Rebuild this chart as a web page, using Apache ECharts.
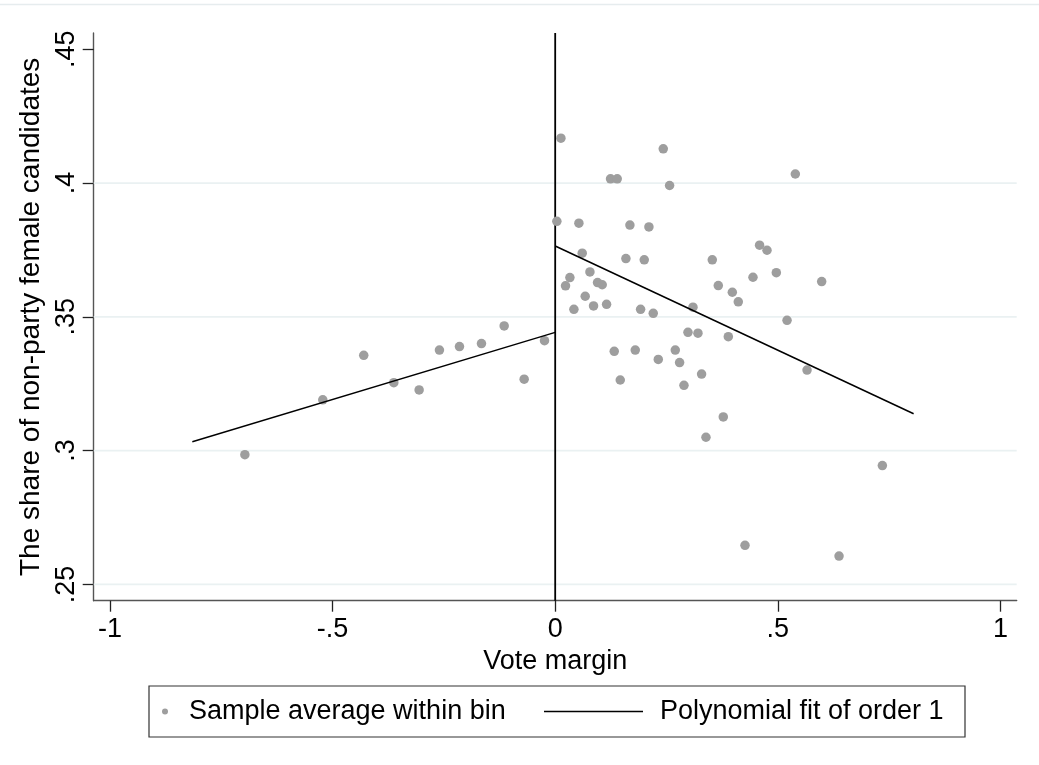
<!DOCTYPE html>
<html>
<head>
<meta charset="utf-8">
<script src="https://cdn.jsdelivr.net/npm/echarts@6/dist/echarts.min.js"></script>
<style>html,body{margin:0;padding:0;background:#fff}#c{width:1039px;height:765px}</style>
</head>
<body>
<div id="c"></div>
<script>
// Bin averages left of the cutoff
const leftX = [-0.697, -0.522, -0.430, -0.3625, -0.3056, -0.260, -0.215, -0.1656, -0.1146, -0.0697, -0.024];
const leftY = [0.2985, 0.3190, 0.3356, 0.3254, 0.3227, 0.3376, 0.3389, 0.3400, 0.3466, 0.3267, 0.3411];
// Bin averages right of the cutoff
const rightX = [0.0037, 0.0128, 0.0232, 0.0330, 0.0420, 0.0532, 0.0607, 0.0674, 0.0780, 0.0861,
                0.0951, 0.1056, 0.1154, 0.1243, 0.1326, 0.1393, 0.1461, 0.1588, 0.1678, 0.1798,
                0.1918, 0.2000, 0.2105, 0.2202, 0.2315, 0.2427, 0.2569, 0.2697, 0.2794, 0.2892,
                0.2982, 0.3094, 0.3206, 0.3288, 0.3386, 0.3528, 0.3663, 0.3775, 0.3888, 0.3978,
                0.4112, 0.4263, 0.4442, 0.4590, 0.4757, 0.4966, 0.5207, 0.5393, 0.5656, 0.5985,
                0.6375, 0.7348];
const rightY = [0.3857, 0.4168, 0.3616, 0.3647, 0.3528, 0.3850, 0.3738, 0.3577, 0.3668, 0.3541,
                0.3628, 0.3620, 0.3547, 0.4016, 0.3371, 0.4016, 0.3264, 0.3718, 0.3843, 0.3376,
                0.3528, 0.3713, 0.3836, 0.3513, 0.3341, 0.4128, 0.3991, 0.3376, 0.3329, 0.3244,
                0.3442, 0.3536, 0.3439, 0.3286, 0.3050, 0.3713, 0.3617, 0.3126, 0.3426, 0.3592,
                0.3556, 0.2646, 0.3648, 0.3768, 0.3749, 0.3665, 0.3487, 0.4034, 0.3301, 0.3632,
                0.2606, 0.2944];
// Linear fits on each side
const fitLeft = [[-0.815, 0.3033], [0, 0.3442]];
const fitRight = [[0, 0.3765], [0.805, 0.3138]];
// Axis ticks and labels
const xTicks = [-1, -0.5, 0, 0.5, 1];
const xTickLabels = ['-1', '-.5', '0', '.5', '1'];
const yTicks = [0.25, 0.3, 0.35, 0.4, 0.45];
const yTickLabels = ['.25', '.3', '.35', '.4', '.45'];
const gridYs = [0.25, 0.3, 0.35, 0.4];
const cutoff = 0;
const xRange = [-1.0365, 1.0365];
const yRange = [0.2439, 0.4561];

const FONT = '"Liberation Sans", Arial, sans-serif';
const FS = 27;
const binData = leftX.map((x, i) => [x, leftY[i]]).concat(rightX.map((x, i) => [x, rightY[i]]));

function lookup(ticks, labels) {
  return function (v) {
    for (let i = 0; i < ticks.length; i++) if (Math.abs(ticks[i] - v) < 1e-9) return labels[i];
    return '';
  };
}

const series = [];
gridYs.forEach(g => series.push({
  type: 'line', name: 'grid' + g, data: [[xRange[0], g], [xRange[1], g]],
  symbol: 'none', silent: true, z: 1,
  lineStyle: {color: '#eaf1f2', width: 1.6}
}));
series.push({
  type: 'line', name: 'cutoff', data: [[cutoff, yRange[0]], [cutoff, yRange[1]]],
  symbol: 'none', silent: true, z: 2,
  lineStyle: {color: '#000', width: 1.8}
});
series.push({
  type: 'scatter', name: 'Sample average within bin', data: binData,
  symbol: 'circle', symbolSize: 9.5, z: 3,
  itemStyle: {color: '#9e9e9e', opacity: 1}
});
series.push({
  type: 'line', name: 'Polynomial fit of order 1', data: fitLeft, showSymbol: false,
  symbol: 'none', z: 4, lineStyle: {color: '#000', width: 1.5}, itemStyle: {color: '#000'}
});
series.push({
  type: 'line', name: 'Polynomial fit of order 1', data: fitRight, showSymbol: false,
  symbol: 'none', z: 4, lineStyle: {color: '#000', width: 1.5}, itemStyle: {color: '#000'}
});

const chart = echarts.init(document.getElementById('c'), null, {renderer: 'canvas'});
chart.setOption({
  animation: false,
  backgroundColor: '#fff',
  textStyle: {fontFamily: FONT},
  grid: {left: 93.7, right: 22.3, top: 33, bottom: 164.3, containLabel: false},
  xAxis: {
    type: 'value', min: xRange[0], max: xRange[1],
    name: 'Vote margin', nameLocation: 'middle', nameGap: 44,
    nameTextStyle: {fontSize: FS, color: '#000', fontFamily: FONT},
    axisLine: {show: true, onZero: false, lineStyle: {color: '#555', width: 1.4}},
    axisTick: {show: true, length: 11, customValues: xTicks, lineStyle: {color: '#222', width: 1.3}},
    axisLabel: {customValues: xTicks, formatter: lookup(xTicks, xTickLabels), fontSize: FS, color: '#000', margin: 15, fontFamily: FONT},
    splitLine: {show: false}
  },
  yAxis: {
    type: 'value', min: yRange[0], max: yRange[1],
    name: 'The share of non-party female candidates', nameLocation: 'middle', nameGap: 41,
    nameTextStyle: {fontSize: 28, color: '#000', fontFamily: FONT},
    axisLine: {show: true, onZero: false, lineStyle: {color: '#555', width: 1.4}},
    axisTick: {show: true, length: 11, customValues: yTicks, lineStyle: {color: '#222', width: 1.3}},
    axisLabel: {customValues: yTicks, formatter: lookup(yTicks, yTickLabels), fontSize: FS, color: '#000', margin: 14, rotate: 90, fontFamily: FONT},
    splitLine: {show: false}
  },
  legend: [
    {
      data: [{name: 'Sample average within bin', icon: 'circle'}],
      left: 162, top: 698, padding: 0, itemWidth: 6, itemHeight: 6,
      textStyle: {fontSize: FS, color: '#000', fontFamily: FONT, padding: [0, 0, 0, 16]},
      selectedMode: false
    },
    {
      data: [{name: 'Polynomial fit of order 1', icon: 'path://M0,0L100,0L100,1.6L0,1.6Z'}],
      left: 544, top: 698, padding: 0, itemWidth: 99, itemHeight: 14,
      itemStyle: {color: '#000'},
      textStyle: {fontSize: FS, color: '#000', fontFamily: FONT, padding: [0, 0, 0, 12]},
      selectedMode: false
    }
  ],
  graphic: [
    {type: 'line', shape: {x1: 0, y1: 4.5, x2: 1039, y2: 4.5}, style: {stroke: '#e6ecee', lineWidth: 1.5}, silent: true},
    {type: 'rect', shape: {x: 149, y: 686, width: 816, height: 51}, style: {fill: 'none', stroke: '#333', lineWidth: 1.2}, silent: true}
  ],
  series: series
});
</script>
</body>
</html>
